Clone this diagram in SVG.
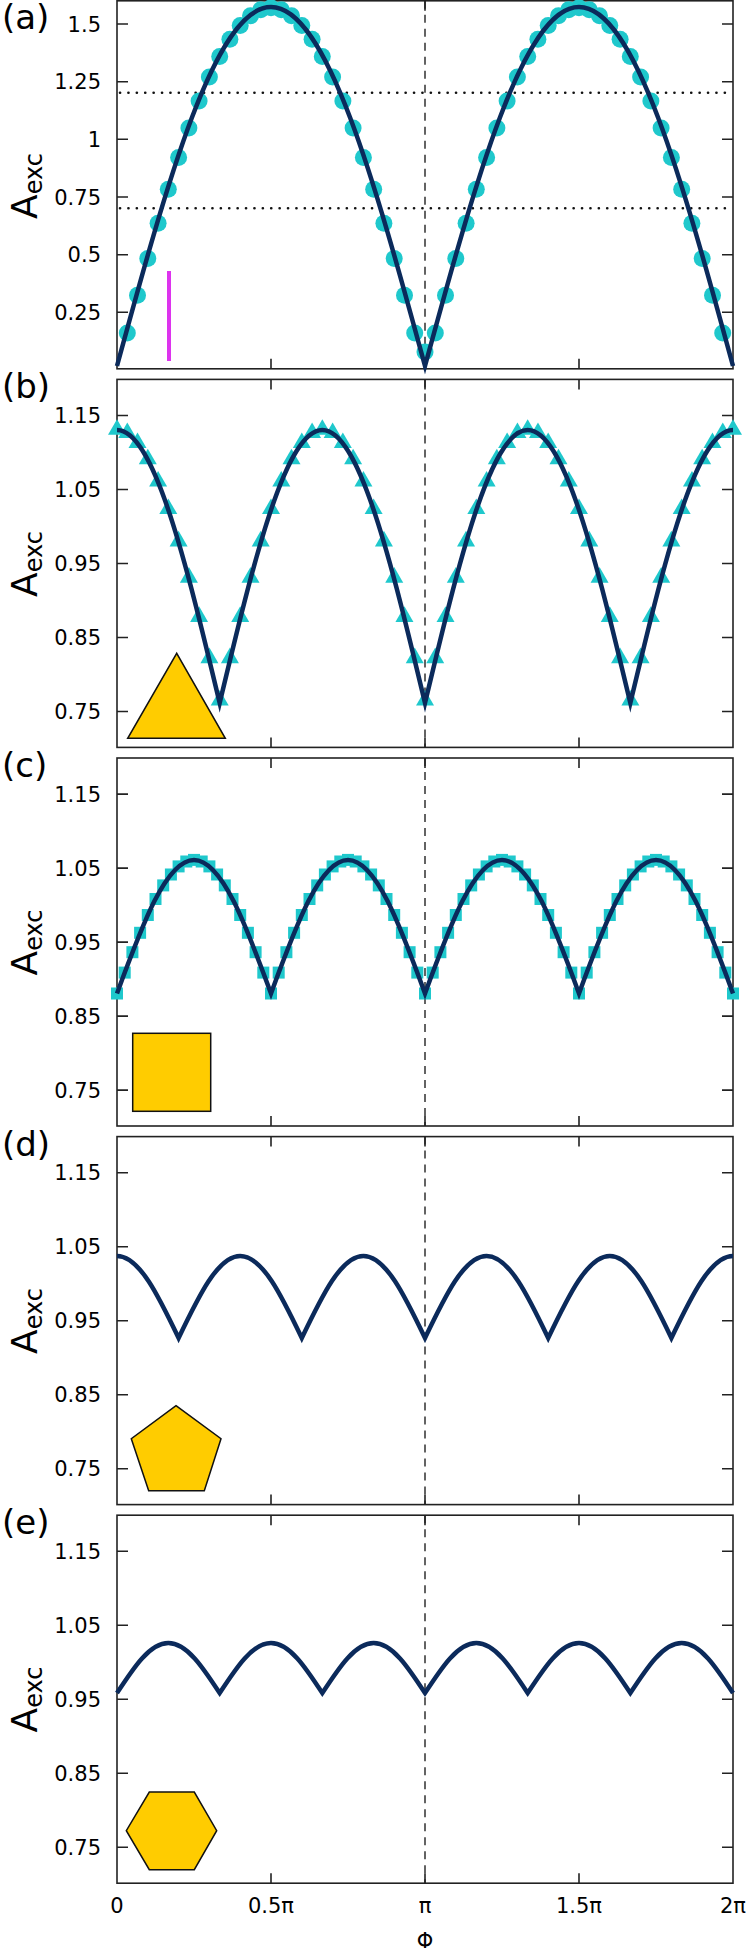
<svg xmlns="http://www.w3.org/2000/svg" xmlns:xlink="http://www.w3.org/1999/xlink" width="746" height="1953" viewBox="0 0 746 1953">
<style>
.fr{fill:none;stroke:#222;stroke-width:1.6}
.tk{stroke:#222;stroke-width:1.6;fill:none}
.ds{stroke:#222;stroke-width:1.4;stroke-dasharray:8 6;fill:none}
.dt{stroke:#111;stroke-width:2.6;stroke-dasharray:0.1 8.3;stroke-linecap:round;fill:none}
.cv{fill:none;stroke:#0b2a5b;stroke-width:4.5;stroke-linejoin:miter;stroke-miterlimit:20}
.mk{fill:#1fc8cc}
.lg{fill:#ffcc00;stroke:#111;stroke-width:1.5;stroke-linejoin:miter}
text{font-family:"DejaVu Sans","Liberation Sans",sans-serif;fill:#000}
.tl{font-size:21px;text-anchor:end}
.xl{font-size:21px;text-anchor:middle}
.pl{font-size:34px}
.yl{font-size:36px;text-anchor:middle}
</style>
<defs>
<circle id="c" r="8.5" class="mk"/>
<polygon id="t" points="-9,5.2 9,5.2 0,-10.4" class="mk"/>
<rect id="s" x="-6" y="-6" width="12" height="12" class="mk"/>
<g id="frame">
<rect x="117" y="0" width="616" height="368" class="fr"/>
<path class="tk" d="M271,368v-10M425,368v-10M579,368v-10M271,0v10M425,0v10M579,0v10"/>
<path class="ds" d="M425,0V368"/>
</g>
<g id="yt">
<path class="tk" d="M117,36.1h11M117,110.1h11M117,184.1h11M117,258.1h11M117,332.1h11M733,36.1h-11M733,110.1h-11M733,184.1h-11M733,258.1h-11M733,332.1h-11"/>
<text class="tl" x="101" y="43.7">1.15</text>
<text class="tl" x="101" y="117.7">1.05</text>
<text class="tl" x="101" y="191.7">0.95</text>
<text class="tl" x="101" y="265.7">0.85</text>
<text class="tl" x="101" y="339.7">0.75</text>
</g>
<g id="ga">
<use href="#c" x="127.3" y="332.9"/><use href="#c" x="137.5" y="295.3"/><use href="#c" x="147.8" y="258.6"/><use href="#c" x="158.1" y="223.2"/><use href="#c" x="168.3" y="189.3"/><use href="#c" x="178.6" y="157.4"/><use href="#c" x="188.9" y="127.9"/><use href="#c" x="199.1" y="101"/><use href="#c" x="209.4" y="77.1"/><use href="#c" x="219.7" y="56.4"/><use href="#c" x="229.9" y="39.2"/><use href="#c" x="240.2" y="25.6"/><use href="#c" x="250.5" y="15.7"/><use href="#c" x="260.7" y="9.8"/><use href="#c" x="271" y="7.8"/><use href="#c" x="281.3" y="9.8"/><use href="#c" x="291.5" y="15.7"/><use href="#c" x="301.8" y="25.6"/><use href="#c" x="312.1" y="39.2"/><use href="#c" x="322.3" y="56.4"/><use href="#c" x="332.6" y="77.1"/><use href="#c" x="342.9" y="101"/><use href="#c" x="353.1" y="127.9"/><use href="#c" x="363.4" y="157.4"/><use href="#c" x="373.7" y="189.3"/><use href="#c" x="383.9" y="223.2"/><use href="#c" x="394.2" y="258.6"/><use href="#c" x="404.5" y="295.3"/><use href="#c" x="414.7" y="332.9"/>
</g>
<g id="gb">
<use href="#t" x="117" y="429.6"/><use href="#t" x="127.3" y="432.9"/><use href="#t" x="137.5" y="442.8"/><use href="#t" x="147.8" y="459.1"/><use href="#t" x="158.1" y="481.3"/><use href="#t" x="168.3" y="508.9"/><use href="#t" x="178.6" y="541.2"/><use href="#t" x="188.9" y="577.5"/><use href="#t" x="199.1" y="616.7"/><use href="#t" x="209.4" y="658"/><use href="#t" x="219.7" y="700.4"/><use href="#t" x="229.9" y="658"/><use href="#t" x="240.2" y="616.7"/><use href="#t" x="250.5" y="577.5"/><use href="#t" x="260.7" y="541.2"/><use href="#t" x="271" y="508.9"/><use href="#t" x="281.3" y="481.3"/><use href="#t" x="291.5" y="459.1"/><use href="#t" x="301.8" y="442.8"/><use href="#t" x="312.1" y="432.9"/>
</g>
<g id="gc">
<use href="#s" x="117" y="993.5"/><use href="#s" x="124.7" y="972.6"/><use href="#s" x="132.4" y="952.2"/><use href="#s" x="140.1" y="932.8"/><use href="#s" x="147.8" y="915"/><use href="#s" x="155.5" y="899"/><use href="#s" x="163.2" y="885.4"/><use href="#s" x="170.9" y="874.5"/><use href="#s" x="178.6" y="866.4"/><use href="#s" x="186.3" y="861.5"/><use href="#s" x="194" y="859.9"/><use href="#s" x="201.7" y="861.5"/><use href="#s" x="209.4" y="866.4"/><use href="#s" x="217.1" y="874.5"/><use href="#s" x="224.8" y="885.4"/><use href="#s" x="232.5" y="899"/><use href="#s" x="240.2" y="915"/><use href="#s" x="247.9" y="932.8"/><use href="#s" x="255.6" y="952.2"/><use href="#s" x="263.3" y="972.6"/>
</g>
</defs>

<g id="panel-a">
<use href="#frame" transform="translate(0,0.8)"/>
<path class="tk" d="M117,24h11M117,81.7h11M117,139.3h11M117,197h11M117,254.7h11M117,312.3h11M733,24h-11M733,81.7h-11M733,139.3h-11M733,197h-11M733,254.7h-11M733,312.3h-11"/>
<text class="tl" x="101" y="31.6">1.5</text>
<text class="tl" x="101" y="89.3">1.25</text>
<text class="tl" x="101" y="146.9">1</text>
<text class="tl" x="101" y="204.6">0.75</text>
<text class="tl" x="101" y="262.3">0.5</text>
<text class="tl" x="101" y="319.9">0.25</text>
<text class="pl" x="2" y="29">(a)</text>
<text class="yl" transform="translate(37,186) rotate(-90)">A<tspan dy="5" font-size="24">exc</tspan></text>
<path class="dt" d="M120,92.7H733M120,208.3H733"/>
<path d="M169,271V361" stroke="#dd33ee" stroke-width="4" fill="none"/>
<use href="#ga"/>
<use href="#ga" transform="translate(308,0)"/>
<use href="#c" x="425" y="352"/>
<path class="cv" d="M117,366C167.25,182 215.25,7 271,7C326.75,7 374.75,182 425,366C475.25,182 523.25,7 579,7C634.75,7 682.75,182 733,366"/>
</g>

<g id="panel-b">
<use href="#frame" transform="translate(0,379.4)"/>
<use href="#yt" transform="translate(0,379.4)"/>
<text class="pl" x="2" y="398.4">(b)</text>
<text class="yl" transform="translate(37,564) rotate(-90)">A<tspan dy="5" font-size="24">exc</tspan></text>
<use href="#gb"/>
<use href="#gb" transform="translate(205.33,0)"/>
<use href="#gb" transform="translate(410.67,0)"/>
<use href="#t" x="733" y="429.6"/>
<path class="cv" d="M117,430C154.17,430 186.17,563.1 219.67,703C253.17,563.1 285.17,430 322.33,430C359.5,430 391.5,563.1 425,703C458.5,563.1 490.5,430 527.67,430C564.83,430 596.83,563.1 630.33,703C663.83,563.1 695.83,430 733,430"/>
<polygon class="lg" points="127.7,738.3 225.3,738.3 176.7,653.3"/>
</g>

<g id="panel-c">
<use href="#frame" transform="translate(0,758)"/>
<use href="#yt" transform="translate(0,758)"/>
<text class="pl" x="2" y="777">(c)</text>
<text class="yl" transform="translate(37,942.5) rotate(-90)">A<tspan dy="5" font-size="24">exc</tspan></text>
<use href="#gc"/>
<use href="#gc" transform="translate(154,0)"/>
<use href="#gc" transform="translate(308,0)"/>
<use href="#gc" transform="translate(462,0)"/>
<use href="#s" x="733" y="993.5"/>
<path class="cv" d="M117,993.5C142.1,925.1 166.1,860 194,860C221.9,860 245.9,925.1 271,993.5C296.1,925.1 320.1,860 348,860C375.9,860 399.9,925.1 425,993.5C450.1,925.1 474.1,860 502,860C529.9,860 553.9,925.1 579,993.5C604.1,925.1 628.1,860 656,860C683.9,860 707.9,925.1 733,993.5"/>
<rect class="lg" x="132.7" y="1033.3" width="78" height="78"/>
</g>

<g id="panel-d">
<use href="#frame" transform="translate(0,1136.6)"/>
<use href="#yt" transform="translate(0,1136.6)"/>
<text class="pl" x="2" y="1155.6">(d)</text>
<text class="yl" transform="translate(37,1321) rotate(-90)">A<tspan dy="5" font-size="24">exc</tspan></text>
<path class="cv" d="M117,1256C139.3,1256 158.5,1296 178.6,1338C198.7,1296 217.9,1256 240.2,1256C262.5,1256 281.7,1296 301.8,1338C321.9,1296 341.1,1256 363.4,1256C385.7,1256 404.9,1296 425,1338C445.1,1296 464.3,1256 486.6,1256C508.9,1256 528.1,1296 548.2,1338C568.3,1296 587.5,1256 609.8,1256C632.1,1256 651.3,1296 671.4,1338C691.5,1296 710.7,1256 733,1256"/>
<polygon class="lg" points="176,1405.7 221,1438.7 204.3,1490.7 148.7,1490.7 131.3,1438.7"/>
</g>

<g id="panel-e">
<use href="#frame" transform="translate(0,1515.2)"/>
<use href="#yt" transform="translate(0,1515.2)"/>
<text class="pl" x="2" y="1534.2">(e)</text>
<text class="yl" transform="translate(37,1699.5) rotate(-90)">A<tspan dy="5" font-size="24">exc</tspan></text>
<path class="cv" d="M117,1693C133.75,1667.4 149.75,1643 168.33,1643C186.92,1643 202.92,1667.4 219.67,1693C236.42,1667.4 252.42,1643 271,1643C289.58,1643 305.58,1667.4 322.33,1693C339.08,1667.4 355.08,1643 373.67,1643C392.25,1643 408.25,1667.4 425,1693C441.75,1667.4 457.75,1643 476.33,1643C494.92,1643 510.92,1667.4 527.67,1693C544.42,1667.4 560.42,1643 579,1643C597.58,1643 613.58,1667.4 630.33,1693C647.08,1667.4 663.08,1643 681.67,1643C700.25,1643 716.25,1667.4 733,1693"/>
<polygon class="lg" points="149.3,1792 194.3,1792 216.7,1830.7 194.3,1869.7 149.3,1869.7 126.3,1830.7"/>
</g>

<g id="x-axis">
<text class="xl" x="117" y="1913">0</text>
<text class="xl" x="271" y="1913">0.5π</text>
<text class="xl" x="425" y="1913">π</text>
<text class="xl" x="579" y="1913">1.5π</text>
<text class="xl" x="733" y="1913">2π</text>
<text class="xl" x="425" y="1948" font-size="30">Φ</text>
</g>
</svg>
